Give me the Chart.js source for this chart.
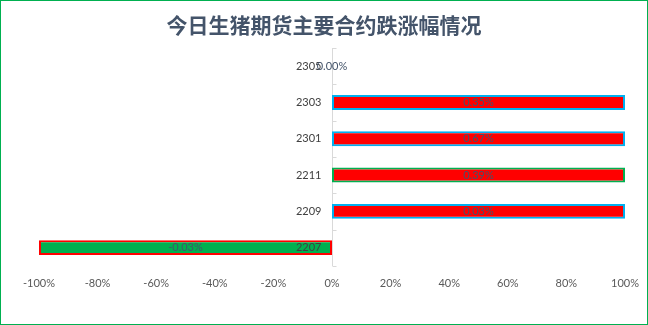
<!DOCTYPE html>
<html>
<head>
<meta charset="utf-8">
<script src="https://cdn.jsdelivr.net/npm/chart.js@4/dist/chart.umd.min.js"></script>
<style>
  html, body { margin: 0; padding: 0; background: #fff; }
  #wrap { width: 648px; height: 325px; position: relative; }
</style>
</head>
<body>
<div id="wrap"><canvas id="chart" width="648" height="325"></canvas></div>
<script>
// 合约代码（从上到下）
const contracts = ['2305', '2303', '2301', '2211', '2209', '2207'];
// 条形长度（原图中按涨跌方向画满 ±100%）
const barValues = [0, 100, 100, 100, 100, -100];
// 条形中显示的实际涨跌幅
const changeLabels = ['0.00%', '0.35%', '0.67%', '0.39%', '0.03%', '-0.03%'];
const fillColors = ['#FF0000', '#FF0000', '#FF0000', '#FF0000', '#FF0000', '#00B050'];
const edgeColors = ['#00B0F0', '#00B0F0', '#00B0F0', '#00B050', '#00B0F0', '#FF0000'];
const chartTitle = '今日生猪期货主要合约跌涨幅情况';

const fontName = 'Lato, "Noto Sans", sans-serif';

// 标题和外框
const framePlugin = {
    id: 'frame',
    beforeDraw(chart) {
        const c = chart.ctx;
        c.save();
        c.fillStyle = '#fff';
        c.fillRect(0, 0, chart.width, chart.height);
        c.font = 'bold 21px "Noto Sans CJK SC", sans-serif';
        c.fillStyle = '#44546A';
        c.textAlign = 'center';
        c.textBaseline = 'middle';
        c.fillText(chartTitle, chart.width / 2, 25);
        c.restore();
    },
    afterDraw(chart) {
        const c = chart.ctx;
        c.save();
        c.strokeStyle = '#00B050';
        c.lineWidth = 1;
        c.strokeRect(0.5, 0.5, chart.width - 1, chart.height - 1);
        c.restore();
    }
};

// 条形中间的数值标签，以及零线左侧的合约代码和刻度线
const labelPlugin = {
    id: 'barLabels',
    afterDatasetsDraw(chart) {
        const c = chart.ctx;
        const meta = chart.getDatasetMeta(0);
        const xs = chart.scales.x;
        const ys = chart.scales.y;
        const zeroX = Math.round(xs.getPixelForValue(0)) + 0.5;
        c.save();

        // 刻度线（向右）
        c.strokeStyle = '#D9D9D9';
        c.lineWidth = 1;
        const step = (ys.bottom - ys.top) / contracts.length;
        for (let i = 0; i <= contracts.length; i++) {
            const y = Math.round(ys.top + i * step) + 0.5;
            c.beginPath();
            c.moveTo(zeroX, y);
            c.lineTo(zeroX + 4, y);
            c.stroke();
        }

        c.font = '11px ' + fontName;
        c.textBaseline = 'middle';

        c.fillStyle = '#404040';
        c.textAlign = 'right';
        contracts.forEach((name, i) => {
            c.fillText(name, zeroX - 11, ys.getPixelForTick(i));
        });

        c.fillStyle = '#44546A';
        c.textAlign = 'center';
        meta.data.forEach((bar, i) => {
            c.fillText(changeLabels[i], (bar.x + bar.base) / 2, bar.y);
        });
        c.restore();
    }
};

new Chart(document.getElementById('chart'), {
    type: 'bar',
    data: {
        labels: contracts,
        datasets: [{
            data: barValues,
            backgroundColor: fillColors,
            borderColor: edgeColors,
            borderWidth: 2,
            borderSkipped: false,
            barPercentage: 0.41,
            categoryPercentage: 1
        }]
    },
    options: {
        indexAxis: 'y',
        responsive: false,
        animation: false,
        layout: { padding: { left: 39, right: 23, top: 48, bottom: 24 } },
        plugins: {
            legend: { display: false },
            title: { display: false },
            tooltip: { enabled: false }
        },
        scales: {
            x: {
                min: -100,
                max: 100,
                afterFit: scale => { scale.paddingLeft = 0; scale.paddingRight = 0; },
                grid: { display: false, drawTicks: false },
                border: { display: false },
                ticks: {
                    stepSize: 20,
                    padding: 11,
                    color: '#595959',
                    font: { family: fontName, size: 11 },
                    callback: v => v + '%'
                }
            },
            y: {
                position: { x: 0 },
                afterFit: scale => { scale.width = 0; },
                grid: { drawOnChartArea: false, drawTicks: false, color: '#D9D9D9' },
                border: { color: '#D9D9D9' },
                ticks: { display: false }
            }
        }
    },
    plugins: [framePlugin, labelPlugin]
});
</script>
</body>
</html>
